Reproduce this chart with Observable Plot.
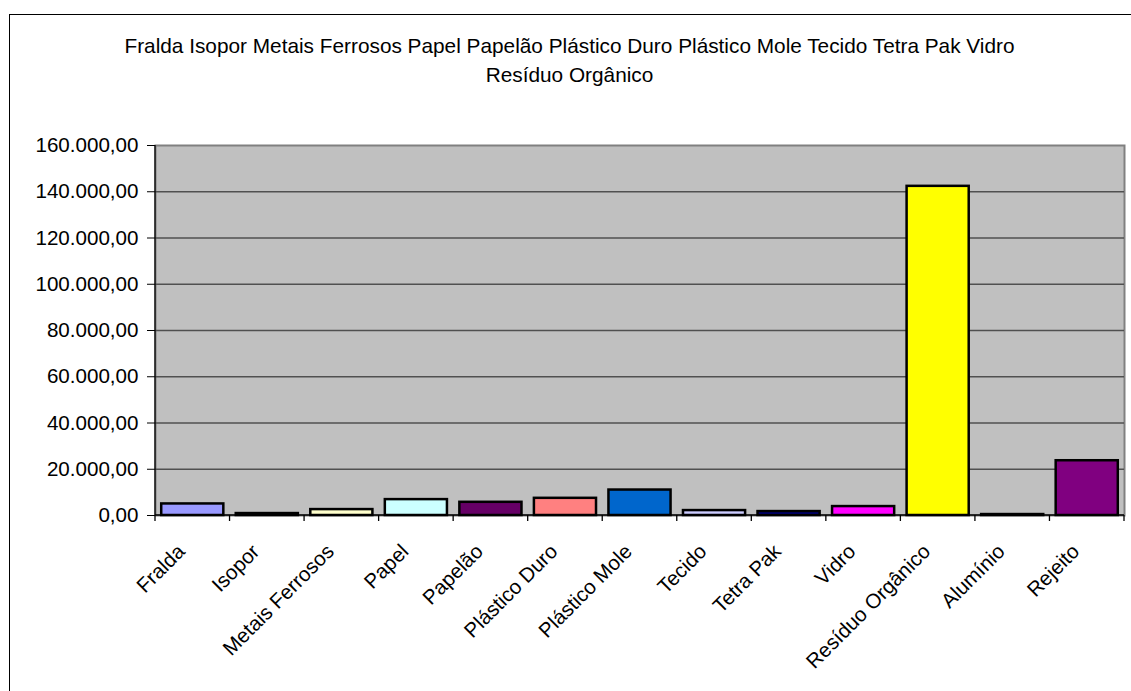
<!DOCTYPE html>
<html>
<head>
<meta charset="utf-8">
<script src="https://cdn.jsdelivr.net/npm/d3@7"></script>
<script src="https://cdn.jsdelivr.net/npm/@observablehq/plot@0.6"></script>
<style>
  body { margin: 0; background: #fff; }
  #chart { position: relative; width: 1131px; height: 691px; overflow: hidden;
           font-family: "Liberation Sans", Arial, sans-serif; color: #000; }
  #frame { position: absolute; left: 9px; top: 14px; width: 1130px; height: 700px;
           border: 1px solid #000; box-sizing: border-box; }
  #title { position: absolute; left: 9px; width: 1121px; top: 31px; text-align: center;
           font-size: 20.8px; line-height: 29px; }
  #plot { position: absolute; left: 0; top: 0; }
  #plot svg { overflow: visible; }
</style>
</head>
<body>
<div id="chart">
  <div id="frame"></div>
  <div id="title"></div>
  <div id="plot"></div>
</div>
<script>
// Waste composition by material (quantity per category)
const categories = ["Fralda", "Isopor", "Metais Ferrosos", "Papel", "Papelão", "Plástico Duro",
  "Plástico Mole", "Tecido", "Tetra Pak", "Vidro", "Resíduo Orgânico", "Alumínio", "Rejeito"];
const values = [5000, 840, 2560, 6870, 5710, 7430, 11010, 2130, 1700, 3860, 142340, 410, 23680];
const colors = ["#9999FF", "#993366", "#FFFFCC", "#CCFFFF", "#660066", "#FF8080", "#0066CC",
  "#CCCCFF", "#000080", "#FF00FF", "#FFFF00", "#00FFFF", "#800080"];
const yTicks = [0, 20000, 40000, 60000, 80000, 100000, 120000, 140000, 160000];
const titleLines = [
  "Fralda Isopor Metais Ferrosos Papel Papelão Plástico Duro Plástico Mole Tecido Tetra Pak Vidro",
  "Resíduo Orgânico"
];

const data = categories.map((name, i) => ({name, value: values[i], color: colors[i]}));

const ptBR = d3.formatLocale({decimal: ",", thousands: ".", grouping: [3], currency: ["R$ ", ""]});
const fmt = ptBR.format(",.2f");

document.getElementById("title").innerHTML = titleLines.join("<br>");

// Axis lines plus tick marks on the category boundaries
function axisLines(index, scales, values, dims) {
  const x = scales.x, y = scales.y;
  const step = x.step(), bw = x.bandwidth();
  const half = (step - bw) / 2;
  const y0 = y(0);
  const g = d3.create("svg:g").attr("stroke", "#000").attr("stroke-width", 1.3);
  const edges = categories.map(c => x(c) - half);
  edges.push(x(categories[categories.length - 1]) + bw + half);
  for (const e of edges) {
    g.append("line").attr("x1", e).attr("x2", e).attr("y1", y0).attr("y2", y0 + 6);
  }
  g.append("line").attr("x1", dims.marginLeft).attr("x2", dims.marginLeft)
    .attr("y1", dims.marginTop).attr("y2", y0);
  g.append("line").attr("x1", dims.marginLeft).attr("x2", dims.width - dims.marginRight)
    .attr("y1", y0).attr("y2", y0);
  return g.node();
}

const chart = Plot.plot({
  width: 1131,
  height: 691,
  marginLeft: 155,
  marginRight: 7,
  marginTop: 145,
  marginBottom: 176,
  style: {background: "transparent", color: "#000", fontFamily: "'Liberation Sans', Arial, sans-serif"},
  x: {domain: categories, paddingInner: 1 / 6, paddingOuter: 1 / 12, round: false, axis: null},
  y: {domain: [0, 160000], axis: null},
  color: {type: "identity"},
  marks: [
    Plot.frame({fill: "#C0C0C0", stroke: "#808080", strokeWidth: 2}),
    Plot.ruleY(yTicks.filter(v => v > 0 && v < 160000), {stroke: "#505050", strokeWidth: 1.3}),
    Plot.barY(data, {x: "name", y: "value", fill: "color", stroke: "#000", strokeWidth: 2.5}),
    axisLines,
    Plot.axisY({ticks: yTicks, tickFormat: fmt, tickSize: 8, tickPadding: 9, fontSize: 20.6,
      label: null, stroke: "#000", fill: "#000"}),
    Plot.text(data, {x: "name", y: () => 0, text: "name", rotate: -45, textAnchor: "end",
      lineAnchor: "top", fontSize: 20.5, dx: -17, dy: 27, fill: "#000"})
  ]
});

document.getElementById("plot").appendChild(chart);
</script>
</body>
</html>
